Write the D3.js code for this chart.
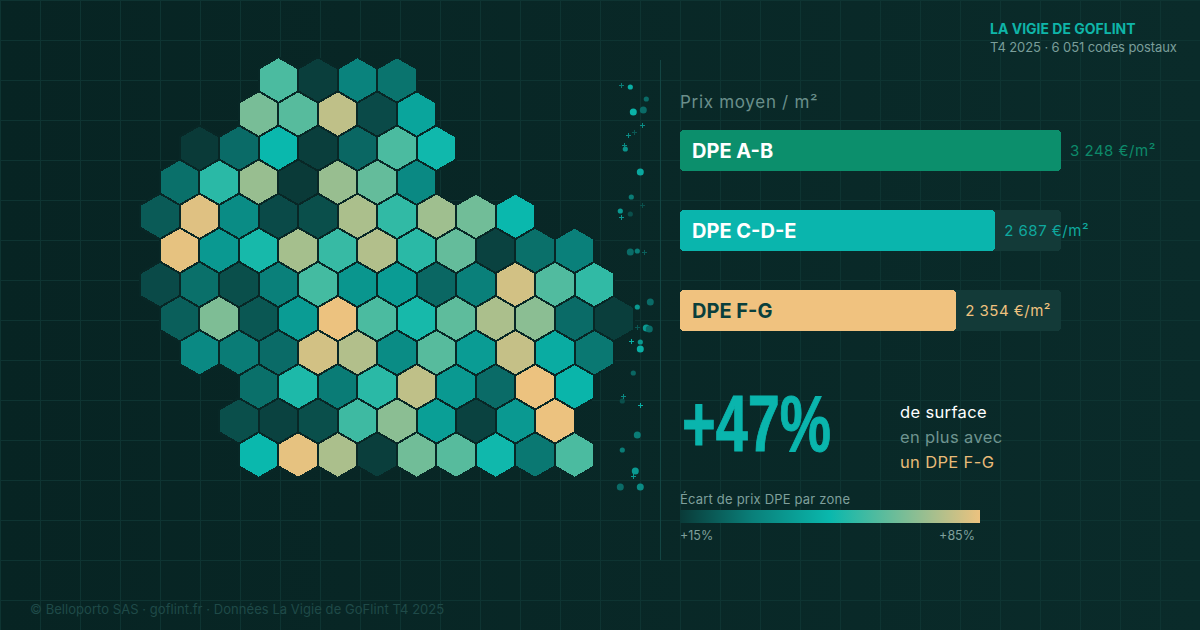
<!DOCTYPE html>
<html lang="fr">
<head>
<meta charset="utf-8">
<title>La Vigie de GoFlint</title>
<script src="https://cdn.jsdelivr.net/npm/d3@7"></script>
<style>
  html, body { margin: 0; padding: 0; background: #082726; }
  svg { display: block; }
  text { font-family: Inter, "Noto Sans", sans-serif; }
</style>
</head>
<body>
<div id="chart"></div>
<script>
// hex map: first column of each row, then the price gap (%) of each zone
var rowStart = [3, 2, 1, 0, 0, 0, 0, 0, 1, 2, 2, 2];
var rowValues = [
  [60, 16, 33, 29],
  [67, 62, 78, 19, 44],
  [15, 27, 50, 16, 26, 60, 51],
  [28, 55, 72, 15, 72, 64, 35],
  [23, 83, 36, 19, 20, 75, 56, 73, 66, 50],
  [84, 40, 52, 74, 57, 76, 55, 64, 17, 28, 32],
  [19, 28, 20, 32, 59, 39, 41, 26, 32, 81, 61, 56],
  [24, 68, 22, 41, 85, 60, 52, 63, 75, 70, 27, 16],
  [35, 31, 27, 81, 76, 36, 62, 41, 79, 46, 30],
  [28, 53, 31, 55, 78, 40, 27, 85, 49],
  [20, 17, 20, 58, 70, 42, 17, 40, 85],
  [50, 84, 75, 16, 66, 62, 51, 30, 60]
];

// price bars
var dpeLabels = ['DPE A-B', 'DPE C-D-E', 'DPE F-G'];
var dpePrices = [3248, 2687, 2354];
var dpeValueText = ['3 248 €/m²', '2 687 €/m²', '2 354 €/m²'];

// scatter strip between map and panel
var dotX = [10, 26, 13, 23, 5, 20, 11, 0, 10, 10, 17, 30, 17, 26, 29, 20, 20, 13, 2, 17, 2, 15, 0, 20];
var dotY = [0, 12, 25, 23, 62, 85, 110, 124, 127, 165, 164, 215, 220, 241, 242, 255, 262, 286, 314, 348, 363, 384, 400, 400];
var dotWeight = [1, 1, 2, 2, 1, 2, 1, 1, 1, 2, 1, 2, 1, 2, 2, 1, 2, 1, 1, 2, 1, 2, 2, 2];
var dotShade = [47, 27, 48, 27, 38, 45, 31, 40, 20, 27, 31, 27, 40, 40, 27, 40, 47, 26, 20, 31, 31, 40, 27, 36];
var plusX = [1, 22, 8, 14, 4, 22, 1, 24, 17, 11, 3, 20, 13];
var plusY = [-2, 38, 48, 45, 58, 118, 130, 165, 240, 254, 309, 318, 389];
var plusShade = [31, 36, 36, 22, 36, 20, 40, 24, 22, 47, 35, 47, 40];

// legend
var legendStops = [15, 32, 50, 85];
var legendColors = ['#0a3a38', '#0a807a', '#0ab8ad', '#ecc27f'];
var legendTicks = [15, 85];

var W = 1200, H = 630;

var svg = d3.select('#chart').append('svg')
  .attr('width', W).attr('height', H)
  .attr('viewBox', '0 0 ' + W + ' ' + H);

var defs = svg.append('defs');
var bgGrad = defs.append('linearGradient').attr('id', 'bg')
  .attr('x1', 0).attr('y1', 0).attr('x2', 1).attr('y2', 0);
bgGrad.append('stop').attr('offset', 0).attr('stop-color', '#072423');
bgGrad.append('stop').attr('offset', 1).attr('stop-color', '#0a2b2a');

svg.append('rect').attr('width', W).attr('height', H).attr('fill', 'url(#bg)');

// background grid
var gridG = svg.append('g').attr('stroke', '#0e3432').attr('stroke-width', 1)
  .attr('shape-rendering', 'crispEdges');
gridG.selectAll('line.v').data(d3.range(0, W, 40)).join('line').attr('class', 'v')
  .attr('x1', function (d) { return d; }).attr('x2', function (d) { return d; })
  .attr('y1', 0).attr('y2', H);
gridG.selectAll('line.h').data(d3.range(0, H, 40)).join('line').attr('class', 'h')
  .attr('y1', function (d) { return d; }).attr('y2', function (d) { return d; })
  .attr('x1', 0).attr('x2', W);

// colour scale shared by map, strip and legend
var color = d3.scaleLinear().domain(legendStops).range(legendColors).clamp(true);

// -----------------------------------------------------------------
// HEX MAP
// -----------------------------------------------------------------
var hexR = 22.8;
var colX = d3.scaleLinear().domain([0, 11]).range([160, 160 + 11 * Math.sqrt(3) * hexR]);
var rowY = d3.scaleLinear().domain([0, 11]).range([80, 455]);

var cells = [];
rowValues.forEach(function (vals, r) {
  vals.forEach(function (v, i) {
    cells.push({ row: r, col: rowStart[r] + i + (r % 2 ? 0.5 : 0), value: v });
  });
});

var hexPoints = d3.range(6).map(function (i) {
  var a = Math.PI / 3 * i - Math.PI / 2;
  return [hexR * Math.cos(a), hexR * Math.sin(a)];
});
var hexPath = 'M' + hexPoints.map(function (p) { return p.join(','); }).join('L') + 'Z';

svg.append('g').selectAll('path').data(cells).join('path')
  .attr('d', hexPath)
  .attr('transform', function (d) { return 'translate(' + colX(d.col) + ',' + rowY(d.row) + ')'; })
  .attr('fill', function (d) { return color(d.value); })
  .attr('stroke', '#082726')
  .attr('stroke-width', 2)
  .attr('shape-rendering', 'crispEdges');

// -----------------------------------------------------------------
// SCATTER STRIP
// -----------------------------------------------------------------
var stripX = d3.scaleLinear().domain([0, 30]).range([620.3, 650.3]);
var stripY = d3.scaleLinear().domain([0, 400]).range([87, 487]);
var stripR = d3.scaleLinear().domain([1, 2]).range([2.6, 3.5]);

svg.append('g').selectAll('circle').data(dotX).join('circle')
  .attr('cx', function (d) { return stripX(d); })
  .attr('cy', function (d, i) { return stripY(dotY[i]); })
  .attr('r', function (d, i) { return stripR(dotWeight[i]); })
  .attr('fill', function (d, i) { return color(dotShade[i]); });

svg.append('g').attr('shape-rendering', 'crispEdges').selectAll('path').data(plusX).join('path')
  .attr('d', 'M-2.5,0H2.5M0,-2.5V2.5')
  .attr('transform', function (d, i) { return 'translate(' + stripX(d) + ',' + stripY(plusY[i]) + ')'; })
  .attr('stroke', function (d, i) { return color(plusShade[i]); })
  .attr('stroke-width', 1);

svg.append('line')
  .attr('x1', 660).attr('x2', 660).attr('y1', 60).attr('y2', 560)
  .attr('stroke', '#134543').attr('stroke-width', 1)
  .attr('shape-rendering', 'crispEdges');

// -----------------------------------------------------------------
// PRICE BARS
// -----------------------------------------------------------------
var barX = d3.scaleLinear().domain([0, 3248]).range([680, 1061]);
var barY = d3.scalePoint().domain(dpeLabels).range([130, 290]);
var barH = 41;
var barFill = ['#0c8f6c', '#0ab5ad', '#f0c27f'];
var barLabelFill = ['#ffffff', '#ffffff', '#0a3f3c'];
var barValueFill = ['#0d8a6a', '#0fa89e', '#efc27f'];

svg.append('text').attr('x', 680).attr('y', 108)
  .attr('font-size', 17).attr('letter-spacing', 0.7).attr('fill', '#6a8f8b').text('Prix moyen / m²');

var bars = svg.append('g').selectAll('g').data(dpeLabels).join('g')
  .attr('transform', function (d) { return 'translate(0,' + barY(d) + ')'; });

bars.append('rect')
  .attr('x', barX(0)).attr('width', barX(3248) - barX(0)).attr('height', barH).attr('rx', 4)
  .attr('fill', '#133a38').attr('shape-rendering', 'crispEdges');
bars.append('rect')
  .attr('x', barX(0)).attr('height', barH).attr('rx', 4)
  .attr('width', function (d, i) { return barX(dpePrices[i]) - barX(0); })
  .attr('fill', function (d, i) { return barFill[i]; })
  .attr('shape-rendering', 'crispEdges');
bars.append('text')
  .attr('x', 692).attr('y', 28).attr('font-size', 20).attr('font-weight', 700)
  .attr('fill', function (d, i) { return barLabelFill[i]; })
  .text(function (d) { return d; });
bars.append('text')
  .attr('x', function (d, i) { return barX(dpePrices[i]) + 9; })
  .attr('y', 26).attr('font-size', 15).attr('letter-spacing', 0.5)
  .attr('fill', function (d, i) { return barValueFill[i]; })
  .text(function (d, i) { return dpeValueText[i]; });

// -----------------------------------------------------------------
// KEY FIGURE
// -----------------------------------------------------------------
svg.append('text').attr('x', 682).attr('y', 451)
  .attr('font-size', 80).attr('font-weight', 700).attr('fill', '#0ab5ad')
  .attr('stroke', '#0ab5ad').attr('stroke-width', 1)
  .attr('textLength', 149).attr('lengthAdjust', 'spacingAndGlyphs')
  .style('font-family', '"Liberation Sans", Inter, sans-serif')
  .text('+47%');

var noteLines = ['de surface', 'en plus avec', 'un DPE F-G'];
var noteFill = ['#ffffff', '#6f9490', '#e8bb78'];
svg.append('g').selectAll('text').data(noteLines).join('text')
  .attr('x', 900).attr('y', function (d, i) { return 418 + i * 25; })
  .attr('font-size', 16.5).attr('letter-spacing', 0.35)
  .attr('fill', function (d, i) { return noteFill[i]; })
  .text(function (d) { return d; });

// -----------------------------------------------------------------
// LEGEND
// -----------------------------------------------------------------
var legendX = d3.scaleLinear().domain([15, 85]).range([680, 980]);
var lg = defs.append('linearGradient').attr('id', 'legend');
lg.selectAll('stop').data(legendStops).join('stop')
  .attr('offset', function (d) { return (legendX(d) - 680) / 300; })
  .attr('stop-color', function (d) { return color(d); });

svg.append('text').attr('x', 680).attr('y', 504)
  .attr('font-size', 13).attr('letter-spacing', 0.2).attr('fill', '#7fa09c').text('Écart de prix DPE par zone');
svg.append('rect')
  .attr('x', legendX(15)).attr('y', 510)
  .attr('width', legendX(85) - legendX(15)).attr('height', 13)
  .attr('fill', 'url(#legend)');
svg.append('g').selectAll('text').data(legendTicks).join('text')
  .attr('x', function (d, i) { return i ? legendX(d) - 5 : legendX(d); })
  .attr('y', 540).attr('font-size', 12.5).attr('fill', '#7fa09c')
  .attr('text-anchor', function (d, i) { return i ? 'end' : 'start'; })
  .text(function (d) { return '+' + d + '%'; });

// -----------------------------------------------------------------
// HEADER / FOOTER
// -----------------------------------------------------------------
svg.append('text').attr('x', 990).attr('y', 34)
  .attr('font-size', 14).attr('font-weight', 700).attr('fill', '#0fb5a8')
  .text('LA VIGIE DE GOFLINT');
svg.append('text').attr('x', 990).attr('y', 52)
  .attr('font-size', 13).attr('letter-spacing', -0.1).attr('fill', '#7a9e9a')
  .text('T4 2025 · 6 051 codes postaux');
svg.append('text').attr('x', 30).attr('y', 614)
  .attr('font-size', 13).attr('letter-spacing', 0.05).attr('fill', '#1f4a48')
  .text('© Belloporto SAS · goflint.fr · Données La Vigie de GoFlint T4 2025');
</script>
</body>
</html>
